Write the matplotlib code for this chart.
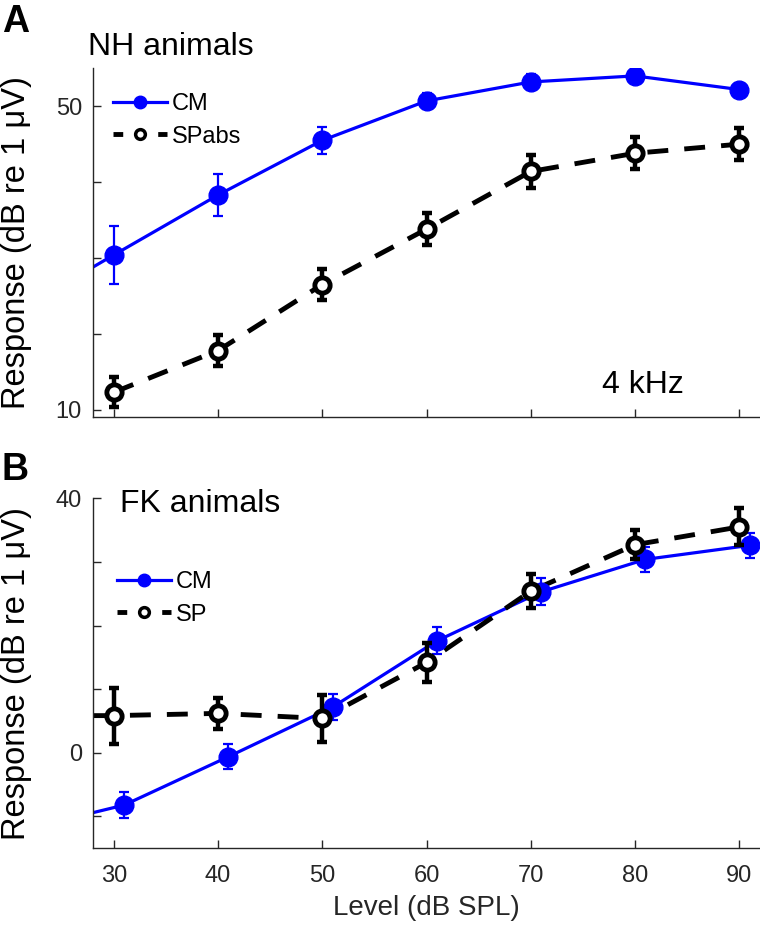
import numpy as np
import matplotlib
matplotlib.use("Agg")
import matplotlib.pyplot as plt

plt.rcParams['font.family'] = ['Liberation Sans', 'DejaVu Sans']

# data
levels = [30, 40, 50, 60, 70, 80, 90]

# panel A, NH animals
nh_cm = [30.4, 38.3, 45.5, 50.7, 53.2, 54.0, 52.2]
nh_cm_err = [3.8, 2.8, 1.8, 1.0, 1.0, 0.9, 0.9]
nh_sp = [12.3, 17.8, 26.5, 33.8, 41.4, 43.8, 45.0]
nh_sp_err = [2.0, 2.1, 2.1, 2.1, 2.2, 2.1, 2.1]
nh_cm_start = (28, 28.8)   # where the CM curve meets the y axis

# panel B, FK animals (CM plotted 1 dB to the right)
fk_cm_levels = [31, 41, 51, 61, 71, 81, 91]
fk_cm = [-8.2, -0.6, 7.2, 17.6, 25.3, 30.4, 32.6]
fk_cm_err = [2.0, 2.0, 2.0, 2.1, 2.1, 2.0, 2.0]
fk_sp = [5.85, 6.2, 5.4, 14.2, 25.4, 32.7, 35.5]
fk_sp_err = [4.4, 2.4, 3.7, 3.0, 2.7, 2.3, 2.9]
fk_cm_start = (28, -9.4)
fk_sp_start = (28, 5.85)

W, H = 760, 925
fig = plt.figure(figsize=(7.6, 9.25), dpi=100)
axc = (0.15, 0.15, 0.15)

def fx(px):
    return px / W

def fy(py):
    return 1 - py / H

axA = fig.add_axes([fx(93), fy(417.3), 1 - fx(93), (417.3 - 68.3) / H])
axB = fig.add_axes([fx(93), fy(848.3), 1 - fx(93), (848.3 - 498.3) / H])

def draw(ax, cx, cy, ce, sx, sy, se, cstart, sstart):
    # curves
    ax.plot([cstart[0]] + list(cx), [cstart[1]] + list(cy), color='blue',
            lw=2.3, zorder=2)
    if sstart is None:
        ax.plot(sx, sy, color='black', lw=3.5, dashes=(4.3, 3.3), zorder=2)
    else:
        ax.plot([sstart[0]] + list(sx), [sstart[1]] + list(sy), color='black',
                lw=3.5, dashes=(4.3, 3.3), zorder=2)
    # error bars
    ax.errorbar(cx, cy, yerr=ce, fmt='none', ecolor='blue', elinewidth=1.6,
                capsize=3.5, capthick=1.6, zorder=3)
    ax.errorbar(sx, sy, yerr=se, fmt='none', ecolor='black', elinewidth=3.2,
                capsize=3.5, capthick=3.2, zorder=4)
    # markers
    ax.plot(cx, cy, 'o', color='blue', ms=13.5, mec='blue', mew=1, zorder=3.5)
    ax.plot(sx, sy, 'o', mfc='white', mec='black', ms=11, mew=3.5, zorder=5)
    # legend proxies
    h1, = ax.plot([], [], '-o', color='blue', lw=2.3, ms=9, mew=1)
    h2, = ax.plot([], [], mfc='white', mec='black', marker='o', color='black',
                  lw=3.5, dashes=(2.0, 2.6), ms=7, mew=2.5)
    return h1, h2

hA = draw(axA, levels, nh_cm, nh_cm_err, levels, nh_sp, nh_sp_err,
          nh_cm_start, None)
hB = draw(axB, fk_cm_levels, fk_cm, fk_cm_err, levels, fk_sp, fk_sp_err,
          fk_cm_start, fk_sp_start)

for ax in (axA, axB):
    ax.set_xlim(28, 92)
    ax.set_xticks(levels)
    ax.spines['top'].set_visible(False)
    ax.spines['right'].set_visible(False)
    for s in ('left', 'bottom'):
        ax.spines[s].set_color(axc)
        ax.spines[s].set_linewidth(1.0)
    ax.tick_params(direction='in', length=6, width=1, colors=axc,
                   labelsize=17, labelcolor=axc)
    ax.tick_params(axis='y', pad=8)
    ax.tick_params(axis='x', pad=12)
    ax.set_ylabel('Response (dB re 1 μV)', fontsize=23.5, color='black')
    ax.yaxis.set_label_coords(-0.092, 0.5)

axA.set_ylim(9, 55)
axA.set_yticks([10, 20, 30, 40, 50])
axA.set_yticklabels(['10', '', '', '', '50'])
axA.tick_params(axis='x', labelbottom=False)

axB.set_ylim(-15, 40)
axB.set_yticks([-10, 0, 10, 20, 30, 40])
axB.set_yticklabels(['', '0', '', '', '', '40'])
axB.set_xlabel('Level (dB SPL)', fontsize=20, color=axc, labelpad=6)

legkw = dict(loc='upper left', frameon=False, fontsize=17, borderpad=0,
             borderaxespad=0, handlelength=2.3, handletextpad=0.2,
             labelspacing=0.45, bbox_transform=fig.transFigure)
axA.legend(hA, ['CM', 'SPabs'], bbox_to_anchor=(fx(113), fy(93)), **legkw)
axB.legend(hB, ['CM', 'SP'], bbox_to_anchor=(fx(117), fy(571)), **legkw)

fig.text(fx(2), fy(32), 'A', fontsize=27, fontweight='bold', va='baseline')
fig.text(fx(1), fy(480), 'B', fontsize=27, fontweight='bold', va='baseline')
fig.text(fx(88), fy(55), 'NH animals', fontsize=23, va='baseline')
fig.text(fx(120), fy(512), 'FK animals', fontsize=23, va='baseline')
fig.text(fx(602), fy(393), '4 kHz', fontsize=23, va='baseline')

fig.savefig('out.png', dpi=100)
